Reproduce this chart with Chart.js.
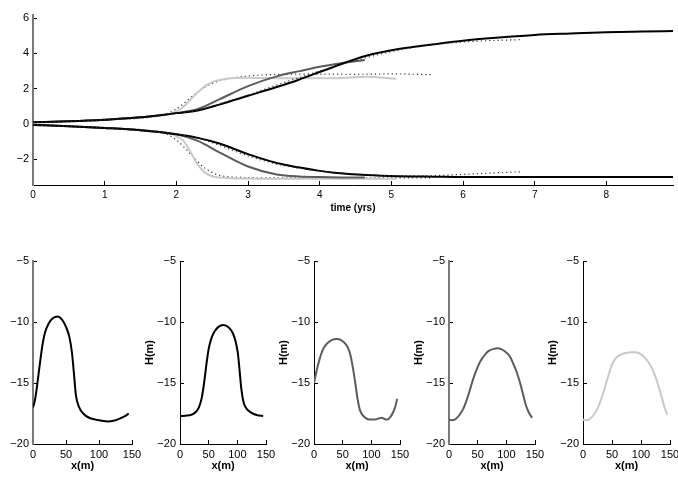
<!DOCTYPE html>
<html>
<head>
<meta charset="utf-8">
<title>Time series and profiles</title>
<script src="https://cdn.jsdelivr.net/npm/chart.js@4.4.1/dist/chart.umd.min.js"></script>
<style>
  html, body { margin: 0; padding: 0; background: #fff; }
  #wrap { position: relative; width: 678px; height: 479px; overflow: hidden; }
  #wrap .box { position: absolute; }
  #wrap canvas { display: block; }
</style>
</head>
<body>
<div id="wrap"></div>
<script>
// ---- top panel: time series (yrs) ----
const TOP_X_TICKS = [0, 1, 2, 3, 4, 5, 6, 7, 8];
const TOP_Y_TICKS = [-2, 0, 2, 4, 6];

const T_BLACK  = [0, 0.5, 1, 1.5, 2, 2.3, 2.6, 3, 3.4, 3.7, 4, 4.2, 4.65, 5.1, 5.6, 6, 6.5, 7, 7.5, 8, 8.5, 8.93];
const UP_BLACK = [0.1, 0.16, 0.25, 0.38, 0.62, 0.77, 1.1, 1.6, 2.1, 2.5, 2.95, 3.25, 3.87, 4.25, 4.52, 4.72, 4.9, 5.05, 5.13, 5.2, 5.24, 5.27];
const LO_BLACK = [-0.05, -0.12, -0.22, -0.35, -0.58, -0.78, -1.1, -1.7, -2.2, -2.45, -2.65, -2.75, -2.88, -2.95, -2.98, -3.0, -3.0, -3.0, -3.0, -3.0, -3.0, -3.0];

const T_GRAY  = [0, 0.5, 1, 1.5, 2, 2.3, 2.6, 3, 3.4, 3.72, 4, 4.3, 4.63];
const UP_GRAY = [0.1, 0.16, 0.25, 0.38, 0.62, 0.85, 1.4, 2.15, 2.7, 3.0, 3.25, 3.45, 3.63];
const LO_GRAY = [-0.05, -0.12, -0.22, -0.35, -0.58, -0.95, -1.6, -2.4, -2.85, -2.97, -3.0, -3.02, -3.03];

const T_LIGHT  = [0, 0.5, 1, 1.5, 1.9, 2.0, 2.1, 2.2, 2.3, 2.4, 2.5, 2.7, 3, 3.5, 4, 4.2, 4.65, 5.07];
const UP_LIGHT = [0.1, 0.16, 0.25, 0.38, 0.55, 0.7, 0.98, 1.4, 1.8, 2.15, 2.38, 2.57, 2.63, 2.6, 2.6, 2.59, 2.68, 2.56];
const LO_LIGHT = [-0.05, -0.12, -0.22, -0.35, -0.52, -0.7, -0.95, -1.6, -2.3, -2.75, -2.95, -3.05, -3.08, -3.1, -3.1, -3.1, -3.1, -3.1];

const T_DOT_LIGHT  = [0, 1, 1.8, 2.0, 2.2, 2.4, 2.6, 2.8, 3, 3.5, 4, 4.5, 5, 5.55];
const UP_DOT_LIGHT = [0.1, 0.25, 0.5, 0.85, 1.5, 2.1, 2.45, 2.62, 2.72, 2.82, 2.83, 2.82, 2.84, 2.8];
const LO_DOT_LIGHT = [-0.05, -0.22, -0.48, -0.9, -1.7, -2.5, -2.9, -3.0, -3.03, -3.05, -3.05, -3.05, -3.05, -3.05];

const T_DOT_BLACK  = [0, 1, 2, 2.3, 2.6, 3, 3.5, 4, 4.5, 5, 5.5, 6, 6.4, 6.8];
const UP_DOT_BLACK = [0.1, 0.25, 0.62, 0.78, 1.15, 1.65, 2.35, 3.0, 3.6, 4.1, 4.45, 4.65, 4.73, 4.78];
const LO_DOT_BLACK = [-0.05, -0.22, -0.58, -0.8, -1.2, -1.8, -2.35, -2.65, -2.82, -2.92, -2.92, -2.85, -2.77, -2.7];

// ---- bottom panels: profiles H(m) against x(m) ----
const PROF_X_TICKS = [0, 50, 100, 150];
const PROF_Y_TICKS = [-20, -15, -10, -5];

const X_P1 = [0, 3, 6, 10, 14, 18, 24, 30, 37, 44, 50, 55, 59, 62, 65, 70, 76, 85, 95, 105, 113, 122, 132, 140, 145];
const H_P1 = [-17.0, -16.4, -15.3, -13.6, -12.0, -10.9, -10.1, -9.7, -9.55, -9.8, -10.4, -11.2, -12.5, -14.2, -16.0, -17.0, -17.5, -17.85, -18.0, -18.1, -18.15, -18.1, -17.9, -17.7, -17.5];

const X_P2 = [0, 10, 20, 27, 33, 38, 42, 46, 50, 55, 60, 67, 76, 85, 92, 97, 101, 104, 107, 111, 116, 125, 135, 145];
const H_P2 = [-17.7, -17.68, -17.6, -17.4, -17.0, -16.2, -15.0, -13.5, -12.2, -11.3, -10.8, -10.4, -10.25, -10.45, -10.9, -11.6, -12.6, -14.0, -15.5, -16.6, -17.1, -17.45, -17.65, -17.7];

const X_P3 = [0, 5, 10, 15, 22, 30, 40, 48, 55, 60, 64, 68, 72, 76, 80, 86, 93, 100, 107, 113, 118, 123, 128, 133, 138, 142, 145];
const H_P3 = [-15.0, -13.9, -13.0, -12.3, -11.8, -11.5, -11.4, -11.5, -11.8, -12.2, -12.8, -13.8, -15.0, -16.3, -17.2, -17.7, -17.95, -18.0, -18.0, -17.9, -17.85, -17.95, -18.0, -17.8, -17.4, -16.9, -16.3];

const X_P4 = [0, 5, 10, 15, 20, 25, 30, 35, 40, 45, 50, 55, 60, 65, 70, 78, 85, 92, 100, 106, 112, 118, 124, 129, 134, 139, 145];
const H_P4 = [-18.0, -18.05, -18.0, -17.8, -17.5, -17.1, -16.5, -15.8, -15.0, -14.3, -13.7, -13.2, -12.85, -12.55, -12.35, -12.2, -12.15, -12.25, -12.5, -12.8, -13.4, -14.1, -15.0, -15.9, -16.8, -17.4, -17.85];

const X_P5 = [0, 5, 10, 15, 20, 25, 30, 35, 40, 45, 50, 56, 62, 70, 78, 86, 93, 100, 106, 113, 119, 125, 131, 136, 140, 145];
const H_P5 = [-18.0, -18.05, -18.0, -17.8, -17.5, -17.1, -16.5, -15.8, -15.0, -14.2, -13.5, -13.0, -12.75, -12.58, -12.5, -12.47, -12.5, -12.65, -12.9, -13.3, -13.8, -14.5, -15.4, -16.2, -16.9, -17.6];

const BLACK = '#000000';
const DARK_GRAY = '#5c5c5c';
const LIGHT_GRAY = '#c9c9c9';
const FONT = "'Liberation Sans', Arial, Helvetica, sans-serif";

Chart.defaults.font.family = FONT;
Chart.defaults.color = '#000';

function pts(xs, ys) {
    return xs.map((x, i) => ({ x: x, y: ys[i] }));
}

function fmt(v) {
    return v < 0 ? '\u2212' + Math.abs(v) : String(v);
}

function solid(xs, ys, color) {
    return {
        data: pts(xs, ys), borderColor: color, borderWidth: 2,
        pointRadius: 0, fill: false, cubicInterpolationMode: 'monotone'
    };
}

function dotted(xs, ys) {
    return {
        data: pts(xs, ys), borderColor: '#333', borderWidth: 1.2, borderDash: [1.2, 3],
        pointRadius: 0, fill: false, cubicInterpolationMode: 'monotone'
    };
}

// each canvas sits in its own fixed-size box so Chart.js sizes it exactly
function makeCanvas(left, top, w, h) {
    const box = document.createElement('div');
    box.className = 'box';
    box.style.cssText = `left:${left}px;top:${top}px;width:${w}px;height:${h}px;`;
    const c = document.createElement('canvas');
    c.width = w; c.height = h;
    c.style.width = w + 'px'; c.style.height = h + 'px';
    box.appendChild(c);
    document.getElementById('wrap').appendChild(box);
    return c;
}

function axis(min, max, tickList, size, extra) {
    return Object.assign({
        type: 'linear', min: min, max: max,
        afterBuildTicks: s => { s.ticks = tickList.map(v => ({ value: v })); },
        border: { display: true, color: '#000', width: 1 },
        grid: { display: true, drawOnChartArea: false, drawTicks: true, tickLength: -4, tickColor: '#000', tickWidth: 1 },
        ticks: { font: { size: size }, color: '#000', padding: 8, maxRotation: 0, autoSkip: false, callback: v => fmt(v) }
    }, extra);
}

const baseOpts = {
    responsive: false, animation: false, devicePixelRatio: 1,
    plugins: { legend: { display: false }, tooltip: { enabled: false } },
    elements: { line: { tension: 0.4 } }
};

// ---- top chart ----
new Chart(makeCanvas(0, 0, 678, 225), {
    type: 'line',
    data: {
        datasets: [
            dotted(T_DOT_BLACK, UP_DOT_BLACK), dotted(T_DOT_BLACK, LO_DOT_BLACK),
            solid(T_BLACK, UP_BLACK, BLACK), solid(T_BLACK, LO_BLACK, BLACK),
            solid(T_GRAY, UP_GRAY, DARK_GRAY), solid(T_GRAY, LO_GRAY, DARK_GRAY),
            solid(T_LIGHT, UP_LIGHT, LIGHT_GRAY), solid(T_LIGHT, LO_LIGHT, LIGHT_GRAY),
            dotted(T_DOT_LIGHT, UP_DOT_LIGHT), dotted(T_DOT_LIGHT, LO_DOT_LIGHT)
        ]
    },
    options: Object.assign({}, baseOpts, {
        layout: { padding: { top: 5, right: 5, left: 0, bottom: 0 } },
        scales: {
            x: axis(0, 8.93, TOP_X_TICKS, 10, {
                afterFit: s => { s.height = 40; },
                title: { display: true, text: 'time (yrs)', font: { size: 10, weight: 'bold' }, padding: 11 }
            }),
            y: axis(-3.45, 6.2, TOP_Y_TICKS, 11, {
                afterFit: s => { s.width = 33; },
                border: { display: true, color: '#7a7a7a', width: 2 }
            })
        }
    })
});

// ---- profile charts ----
const panels = [
    { xs: X_P1, hs: H_P1, color: BLACK, left: 0, yw: 33, w: 99, pr: 12, ylab: false, ygray: true },
    { xs: X_P2, hs: H_P2, color: BLACK, left: 135, yw: 45, w: 86, pr: 12, ylab: true, ygray: false },
    { xs: X_P3, hs: H_P3, color: DARK_GRAY, left: 269, yw: 45, w: 86, pr: 12, ylab: true, ygray: false },
    { xs: X_P4, hs: H_P4, color: DARK_GRAY, left: 404, yw: 45, w: 86, pr: 12, ylab: true, ygray: true },
    { xs: X_P5, hs: H_P5, color: LIGHT_GRAY, left: 538, yw: 45, w: 87, pr: 8, ylab: true, ygray: false }
];

panels.forEach(p => {
    const cw = p.yw + p.w + p.pr;
    new Chart(makeCanvas(p.left, 240, cw, 239), {
        type: 'line',
        data: { datasets: [solid(p.xs, p.hs, p.color)] },
        options: Object.assign({}, baseOpts, {
            layout: { padding: { top: 21, right: p.pr, left: 0, bottom: 0 } },
            scales: {
                x: axis(0, 150, PROF_X_TICKS, 11, {
                    afterFit: s => { s.height = 35; s.paddingRight = 0; },
                    title: { display: true, text: 'x(m)', font: { size: 11, weight: 'bold' }, padding: 6 }
                }),
                y: axis(-20, -5, PROF_Y_TICKS, 11, {
                    afterFit: s => { s.width = p.yw; },
                    border: p.ygray ? { display: true, color: '#7a7a7a', width: 2 } : { display: true, color: '#000', width: 1 },
                    title: { display: p.ylab, text: 'H(m)', font: { size: 11, weight: 'bold' }, padding: 8 }
                })
            }
        })
    });
});
</script>
</body>
</html>
